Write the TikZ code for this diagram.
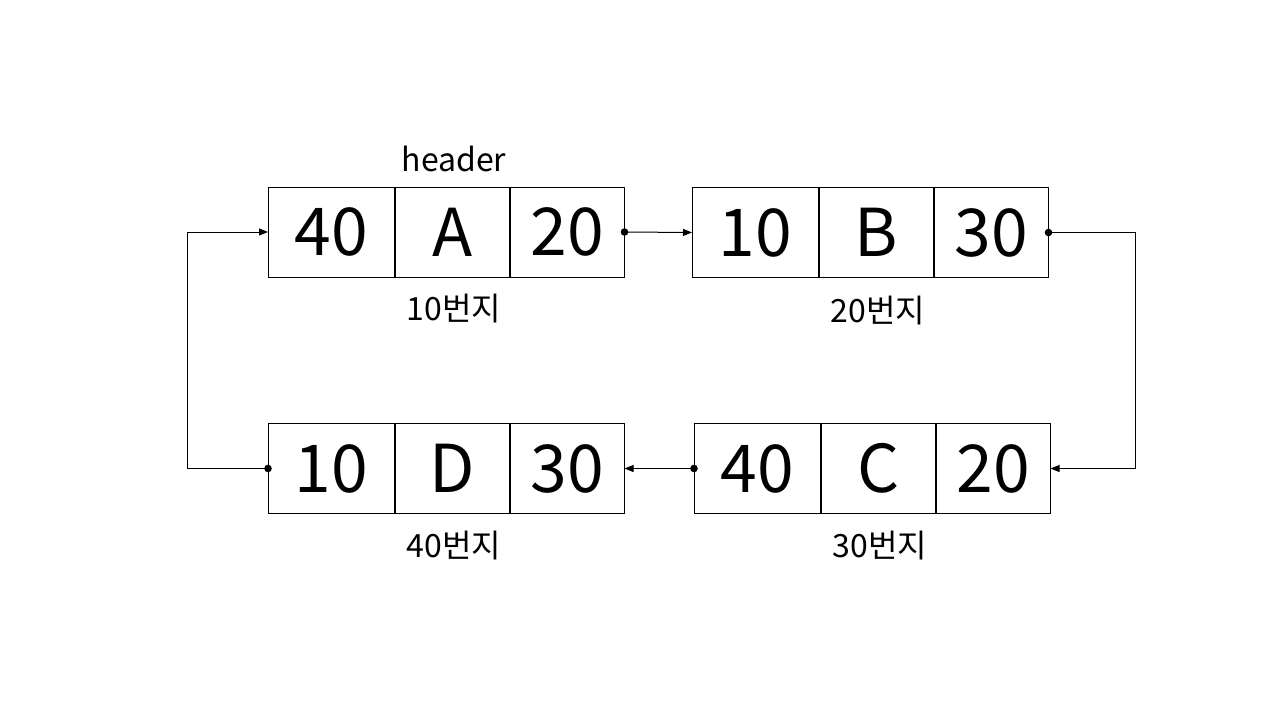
\documentclass[tikz,border=0pt]{standalone}
\usepackage{fontspec}
\setmainfont{Noto Sans CJK KR}
\usetikzlibrary{arrows.meta}
\tikzset{
  cell/.style={draw, line width=1pt, inner sep=0pt, minimum height=90pt, font=\fontsize{66}{66}\selectfont, anchor=west},
  lab/.style={font=\fontsize{32}{32}\selectfont, inner sep=0pt},
  link/.style={line width=1pt, -{Triangle[length=9pt,width=7pt]}},
  dot/.style={fill=black}
}
\newcommand{\listnode}[5]{%
  \node[cell, minimum width=125.5pt] (#1a) at (#2) {#3};
  \node[cell, minimum width=114.5pt] (#1b) at (#1a.east) {#4};
  \node[cell, minimum width=113.5pt] (#1c) at (#1b.east) {#5};
}
\begin{document}
\begin{tikzpicture}[x=1pt, y=-1pt]
\useasboundingbox (0,0) rectangle (1280,720);
\listnode{A}{268,232}{40}{A}{20}
\listnode{B}{692,232.5}{10}{B}{30}
\listnode{C}{694,468.5}{40}{C}{20}
\listnode{D}{268,468.5}{10}{D}{30}
\node[lab] (hdr) at (454,159) {header};
\node[lab] (la) at (454,309) {10번지};
\node[lab] (lb) at (878,311) {20번지};
\node[lab] (lc) at (880,546) {30번지};
\node[lab] (ld) at (454,546) {40번지};
\coordinate (rb) at (1135,232.5);
\coordinate (lb2) at (187,468.5);
\draw[link] (Ac.east) -- (Ba.west);
\draw[link] (Bc.east) -- (rb) |- (Cc.east);
\draw[link] (Ca.west) -- (Dc.east);
\draw[link] (Da.west) -- (lb2) |- (Aa.west);
\fill[dot] (Ac.east) circle (3.8pt);
\fill[dot] (Bc.east) circle (3.8pt);
\fill[dot] (Ca.west) circle (3.8pt);
\fill[dot] (Da.west) circle (3.8pt);
\end{tikzpicture}
\end{document}
